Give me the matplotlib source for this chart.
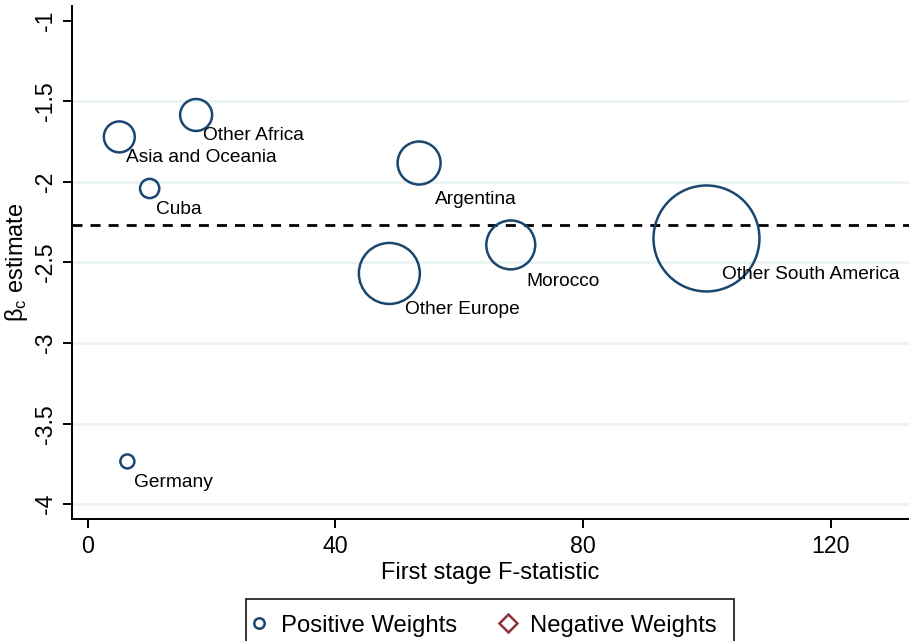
import matplotlib
matplotlib.use("Agg")
import matplotlib.pyplot as plt
from matplotlib.lines import Line2D
from matplotlib.patches import Rectangle
import numpy as np

plt.rcParams['font.family'] = ['Liberation Sans', 'DejaVu Sans']
plt.rcParams['mathtext.fontset'] = 'custom'
plt.rcParams['mathtext.rm'] = 'Liberation Sans'
plt.rcParams['mathtext.it'] = 'Liberation Sans:italic'

# ---- data ----
countries = ["Asia and Oceania", "Other Africa", "Cuba", "Argentina",
             "Morocco", "Other Europe", "Other South America", "Germany"]
f_stat = [5.1, 17.5, 10.0, 53.5, 68.3, 48.7, 99.9, 6.4]
beta_c = [-1.721, -1.585, -2.041, -1.883, -2.391, -2.568, -2.351, -3.734]
weights = [0.044, 0.047, 0.017, 0.085, 0.110, 0.171, 0.516, 0.009]
beta_overall = -2.266
x_ticks = [0, 40, 80, 120]
y_ticks = [-1, -1.5, -2, -2.5, -3, -3.5, -4]
y_tick_labels = ["-1", "-1.5", "-2", "-2.5", "-3", "-3.5", "-4"]
grid_levels = [-1.5, -2, -2.5, -3, -3.5, -4]

NAVY = "#1a476f"
MAROON = "#90353b"
GRID = "#eaf2f3"

W, H = 909, 641
fig = plt.figure(figsize=(W / 100, H / 100), dpi=100)
ax = fig.add_axes([72 / W, 1 - 519.3 / H, 1 - 72 / W, (519.3 - 6) / H])

ax.set_xlim(-2.54, 132.6)
ax.set_ylim(-4.093, -0.909)

for g in grid_levels:
    ax.axhline(g, color=GRID, lw=1.9, zorder=0)

ax.axhline(beta_overall, color="black", lw=2.0, dashes=(3.6, 2.9), zorder=2)

sizes = [11280 * w for w in weights]
ax.scatter(f_stat, beta_c, s=sizes, facecolors="none", edgecolors=NAVY,
           linewidths=1.8, zorder=3)

for name, x, y, w in zip(countries, f_stat, beta_c, weights):
    big = w > 0.07
    dx, dy = (15.5, -41) if big else (6.8, -25.5)
    ax.annotate(name, (x, y), xytext=(dx, dy), textcoords="offset pixels",
                ha="left", va="baseline", fontsize=13.8, color="black", zorder=4)

for side in ["top", "right"]:
    ax.spines[side].set_visible(False)
for side in ["left", "bottom"]:
    ax.spines[side].set_linewidth(1.4)

ax.set_xticks(x_ticks)
ax.set_xticklabels([str(t) for t in x_ticks])
ax.set_yticks(y_ticks)
ax.set_yticklabels(y_tick_labels, rotation=90, va="center")
ax.tick_params(axis="both", direction="out", length=6.5, width=1.4,
               labelsize=16.7, pad=5)
ax.tick_params(axis="y", pad=4)

ax.set_xlabel("First stage F-statistic", fontsize=17, labelpad=3)
ax.set_ylabel(r"β$_\mathregular{c}$ estimate", fontsize=17, labelpad=3)

# legend
handles = [
    Line2D([], [], marker="o", linestyle="none", markersize=7.5,
           markerfacecolor="none", markeredgecolor=NAVY, markeredgewidth=1.8),
    Line2D([], [], marker="D", linestyle="none", markersize=9,
           markerfacecolor="none", markeredgecolor=MAROON, markeredgewidth=1.8),
]
fig.legend(handles, ["Positive Weights", "Negative Weights"], ncol=2,
           loc="upper left", bbox_to_anchor=(246 / W, 1 - 605 / H),
           frameon=False, fontsize=17.2, borderpad=0.4, borderaxespad=0,
           handlelength=0.3, handletextpad=0.78, columnspacing=1.95)
fig.add_artist(Rectangle((246 / W, -20 / H), (734 - 246) / W, (641 + 20 - 599) / H,
                         transform=fig.transFigure, fill=False,
                         edgecolor="black", lw=1.1, clip_on=False))

fig.savefig("out.png", dpi=100)
